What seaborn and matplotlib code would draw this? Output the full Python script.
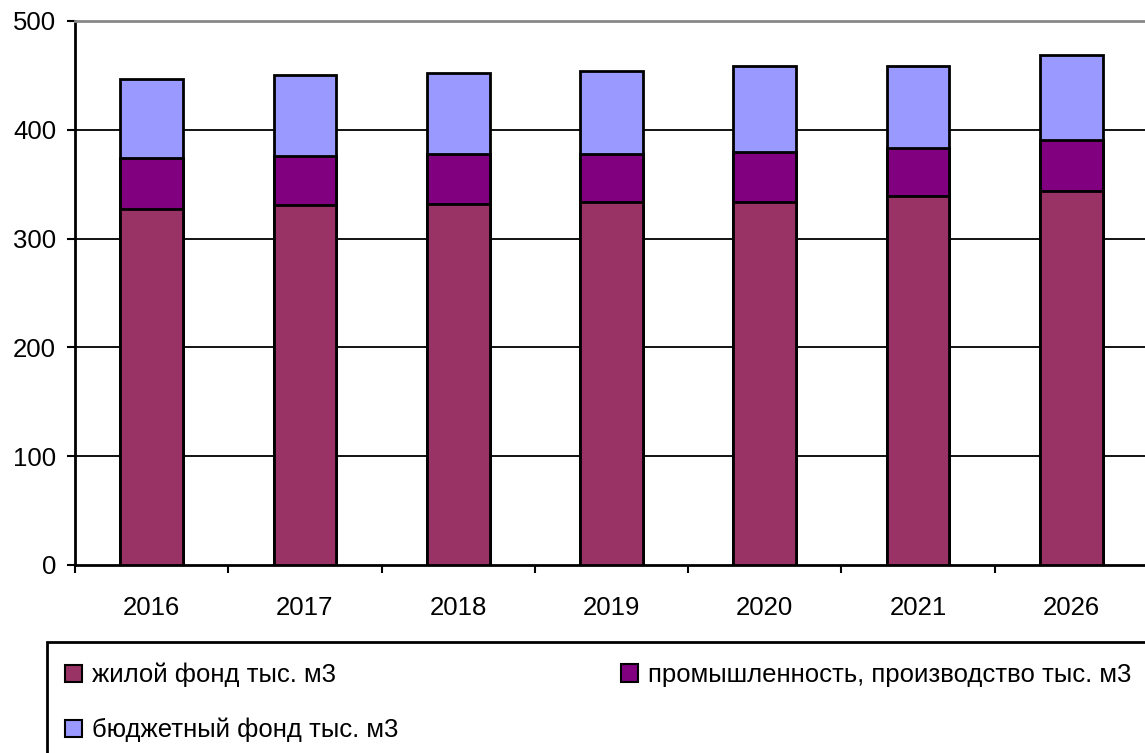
import matplotlib
matplotlib.use("Agg")
import matplotlib.pyplot as plt
from matplotlib.patches import Patch, Rectangle
import seaborn as sns
import pandas as pd
import numpy as np

years = ["2016", "2017", "2018", "2019", "2020", "2021", "2026"]
housing = [327, 331, 332, 334, 334, 339, 344]
industry = [47, 45, 46, 44, 46, 44, 47]
budget = [73, 74, 74, 76, 79, 76, 78]
labels = ["жилой фонд тыс. м3", "промышленность, производство тыс. м3", "бюджетный фонд тыс. м3"]
colors = ["#993366", "#800080", "#9999FF"]
yticks = [0, 100, 200, 300, 400, 500]

sns.set_style("white")
plt.rcParams["font.family"] = ["Liberation Sans", "DejaVu Sans"]
plt.rcParams["text.color"] = "black"
plt.rcParams["xtick.labelcolor"] = "black"
plt.rcParams["ytick.labelcolor"] = "black"

W, H = 1145, 753
fig = plt.figure(figsize=(W / 100, H / 100), dpi=100)
ax = fig.add_axes([75 / W, (H - 565) / H, (1148 - 75) / W, (565 - 21) / H])

df = pd.DataFrame({"year": years, "housing": housing, "industry": industry, "budget": budget})
df["lvl2"] = df["housing"] + df["industry"]
df["lvl3"] = df["lvl2"] + df["budget"]

for col, c in [("lvl3", colors[2]), ("lvl2", colors[1]), ("housing", colors[0])]:
    sns.barplot(data=df, x="year", y=col, color=c, saturation=1, width=0.41,
                edgecolor="black", linewidth=2, ax=ax, zorder=3)

n = len(years)
ax.set_xlim(-0.5, n - 0.5)
ax.set_ylim(0, 500)
ax.set_xlabel("")
ax.set_ylabel("")

ax.set_yticks(yticks)
ax.set_yticklabels([str(v) for v in yticks])
ax.tick_params(axis="y", direction="out", length=5.5, width=1.5, color="black",
               labelsize=18.5, pad=8, left=True, labelcolor="black")

ax.set_xticks(np.arange(-0.5, n, 1.0))
ax.set_xticklabels([])
ax.set_xticks(np.arange(n), minor=True)
ax.set_xticklabels(years, minor=True)
ax.tick_params(axis="x", which="major", direction="out", length=6, width=1.5, color="black", bottom=True)
ax.tick_params(axis="x", which="minor", length=0, labelsize=18.5, pad=22, bottom=True, labelcolor="black")

for y in yticks[1:-1]:
    ax.axhline(y, color="black", linewidth=1.3, zorder=1)

for s in ["left", "bottom"]:
    ax.spines[s].set_color("black")
    ax.spines[s].set_linewidth(2)
ax.spines["top"].set_color("#888888")
ax.spines["top"].set_linewidth(2)
ax.spines["right"].set_visible(False)
ax.grid(False)

# legend frame
fig.add_artist(Rectangle((46.7 / W, -0.05), 1.1, (H - 641.7) / H + 0.05,
                         transform=fig.transFigure, facecolor="white",
                         edgecolor="black", linewidth=2, zorder=0))

handles = [Patch(facecolor=c, edgecolor="black", linewidth=1.5) for c in colors]
positions = [(65, 675), (621, 675), (65, 730)]
for h, lab, (px, py) in zip(handles, labels, positions):
    leg = fig.legend([h], [lab], loc="center left", bbox_to_anchor=(px / W, 1 - py / H),
                     frameon=False, fontsize=18.5, handlelength=0.65, handleheight=0.65,
                     handletextpad=0.4, borderpad=0, borderaxespad=0)
    for t in leg.get_texts():
        t.set_color("black")

fig.savefig("out.png", dpi=100)
